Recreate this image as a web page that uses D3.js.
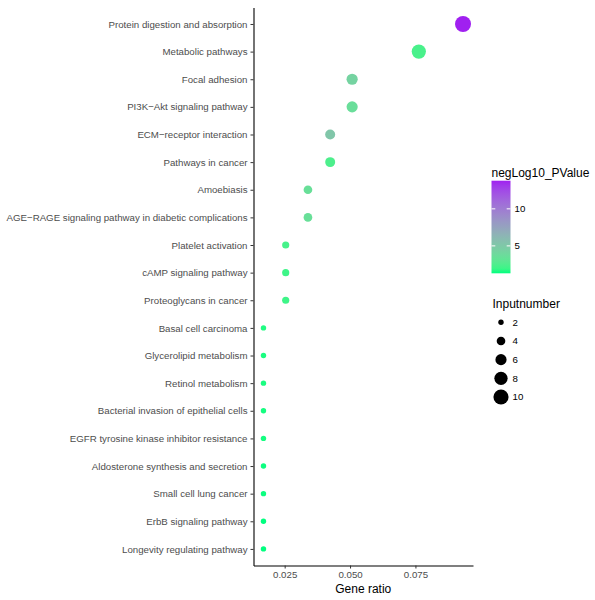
<!DOCTYPE html>
<html>
<head>
<meta charset="utf-8">
<script src="https://cdn.jsdelivr.net/npm/d3@7"></script>
<style>
  html, body { margin: 0; padding: 0; background: #fff; }
  svg { display: block; font-family: "Liberation Sans", Arial, sans-serif; }
</style>
</head>
<body>
<svg id="chart" width="595" height="600"></svg>
<script>
const categories = [
  "Protein digestion and absorption",
  "Metabolic pathways",
  "Focal adhesion",
  "PI3K\u2212Akt signaling pathway",
  "ECM\u2212receptor interaction",
  "Pathways in cancer",
  "Amoebiasis",
  "AGE\u2212RAGE signaling pathway in diabetic complications",
  "Platelet activation",
  "cAMP signaling pathway",
  "Proteoglycans in cancer",
  "Basal cell carcinoma",
  "Glycerolipid metabolism",
  "Retinol metabolism",
  "Bacterial invasion of epithelial cells",
  "EGFR tyrosine kinase inhibitor resistance",
  "Aldosterone synthesis and secretion",
  "Small cell lung cancer",
  "ErbB signaling pathway",
  "Longevity regulating pathway"
];
const geneRatio = [0.0932, 0.0763, 0.0508, 0.0508, 0.0424, 0.0424, 0.0339, 0.0339,
  0.0254, 0.0254, 0.0254, 0.0169, 0.0169, 0.0169, 0.0169, 0.0169, 0.0169, 0.0169, 0.0169, 0.0169];
const inputNumber = [11, 9, 6, 6, 5, 5, 4, 4, 3, 3, 3, 2, 2, 2, 2, 2, 2, 2, 2, 2];
const negLog10P = [13.8, 2.3, 4.3, 3.6, 5.2, 2.4, 3.5, 3.5, 2.2, 2.0, 2.0, 1.5, 1.45, 1.45, 1.4, 1.4, 1.35, 1.35, 1.3, 1.3];
const xTicks = [0.025, 0.050, 0.075];
const colorTicks = [5, 10];
const sizeTicks = [2, 4, 6, 8, 10];

const svg = d3.select("#chart");
const plot = { left: 253.5, right: 473, top: 7.4, bottom: 565.5 };
const tickFont = "9.7px", titleFont = "12px";

// x scale with ggplot 5% expansion
const xmin = d3.min(geneRatio), xmax = d3.max(geneRatio);
const xpad = (xmax - xmin) * 0.05;
const x = d3.scaleLinear().domain([xmin - xpad, xmax + xpad]).range([plot.left, plot.right]);
const y = d3.scalePoint().domain(categories).range([plot.top, plot.bottom]).padding(0.6);

const cmin = d3.min(negLog10P), cmax = d3.max(negLog10P);
const color = d3.scaleLinear().domain([cmin, cmax]).range(["#00FF7F", "#A020F0"]).interpolate(d3.interpolateLab);

const smin = d3.min(inputNumber), smax = d3.max(inputNumber);
const rSqrt = d3.scaleLinear().domain([Math.sqrt(smin), Math.sqrt(smax)]).range([2.7, 8]);
const r = v => rSqrt(Math.sqrt(v));

const data = categories.map((c, i) => ({ c, g: geneRatio[i], n: inputNumber[i], p: negLog10P[i] }));

// points
svg.append("g").selectAll("circle").data(data).join("circle")
  .attr("cx", d => x(d.g)).attr("cy", d => y(d.c)).attr("r", d => r(d.n))
  .attr("fill", d => color(d.p));

// axes
const yAxis = svg.append("g").attr("transform", `translate(${plot.left},0)`)
  .call(d3.axisLeft(y).tickSize(3).tickPadding(3).tickSizeOuter(0));
const xAxis = svg.append("g").attr("transform", `translate(0,${plot.bottom})`)
  .call(d3.axisBottom(x).tickValues(xTicks).tickFormat(d3.format(".3f")).tickSize(3).tickPadding(3).tickSizeOuter(0));
[yAxis, xAxis].forEach(a => {
  a.select(".domain").attr("stroke", "#000").attr("stroke-width", 1.1);
  a.selectAll(".tick line").attr("stroke", "#333").attr("stroke-width", 1);
  a.selectAll(".tick text").attr("fill", "#4D4D4D").style("font-size", tickFont)
    .style("font-family", "'Liberation Sans', Arial, sans-serif");
});

svg.append("text").attr("x", (plot.left + plot.right) / 2).attr("y", 593)
  .attr("text-anchor", "middle").style("font-size", titleFont).attr("fill", "#000").text("Gene ratio");

// color legend
const cb = { x: 491.5, y: 180.7, w: 19, h: 92.6 };
svg.append("text").attr("x", cb.x).attr("y", 177).style("font-size", titleFont).attr("fill", "#000").text("negLog10_PValue");
const defs = svg.append("defs");
const grad = defs.append("linearGradient").attr("id", "cgrad").attr("x1", 0).attr("y1", 1).attr("x2", 0).attr("y2", 0);
d3.range(0, 1.0001, 0.05).forEach(t => {
  grad.append("stop").attr("offset", t).attr("stop-color", color(cmin + t * (cmax - cmin)));
});
svg.append("rect").attr("x", cb.x).attr("y", cb.y).attr("width", cb.w).attr("height", cb.h).attr("fill", "url(#cgrad)");
const cy = d3.scaleLinear().domain([cmin, cmax]).range([cb.y + cb.h, cb.y]);
colorTicks.forEach(t => {
  svg.append("line").attr("x1", cb.x).attr("x2", cb.x + 3.8).attr("y1", cy(t)).attr("y2", cy(t)).attr("stroke", "#fff").attr("stroke-width", 1);
  svg.append("line").attr("x1", cb.x + cb.w - 3.8).attr("x2", cb.x + cb.w).attr("y1", cy(t)).attr("y2", cy(t)).attr("stroke", "#fff").attr("stroke-width", 1);
  svg.append("text").attr("x", cb.x + cb.w + 4).attr("y", cy(t)).attr("dy", "0.35em")
    .style("font-size", tickFont).attr("fill", "#000").text(t);
});

// size legend
svg.append("text").attr("x", 492.5).attr("y", 308).style("font-size", titleFont).attr("fill", "#000").text("Inputnumber");
const sy = d3.scalePoint().domain(sizeTicks).range([322.3, 397]);
const sg = svg.append("g");
sizeTicks.forEach(t => {
  sg.append("circle").attr("cx", 501).attr("cy", sy(t)).attr("r", r(t)).attr("fill", "#000");
  sg.append("text").attr("x", 512.5).attr("y", sy(t)).attr("dy", "0.35em").style("font-size", tickFont).attr("fill", "#000").text(t);
});
</script>
</body>
</html>
